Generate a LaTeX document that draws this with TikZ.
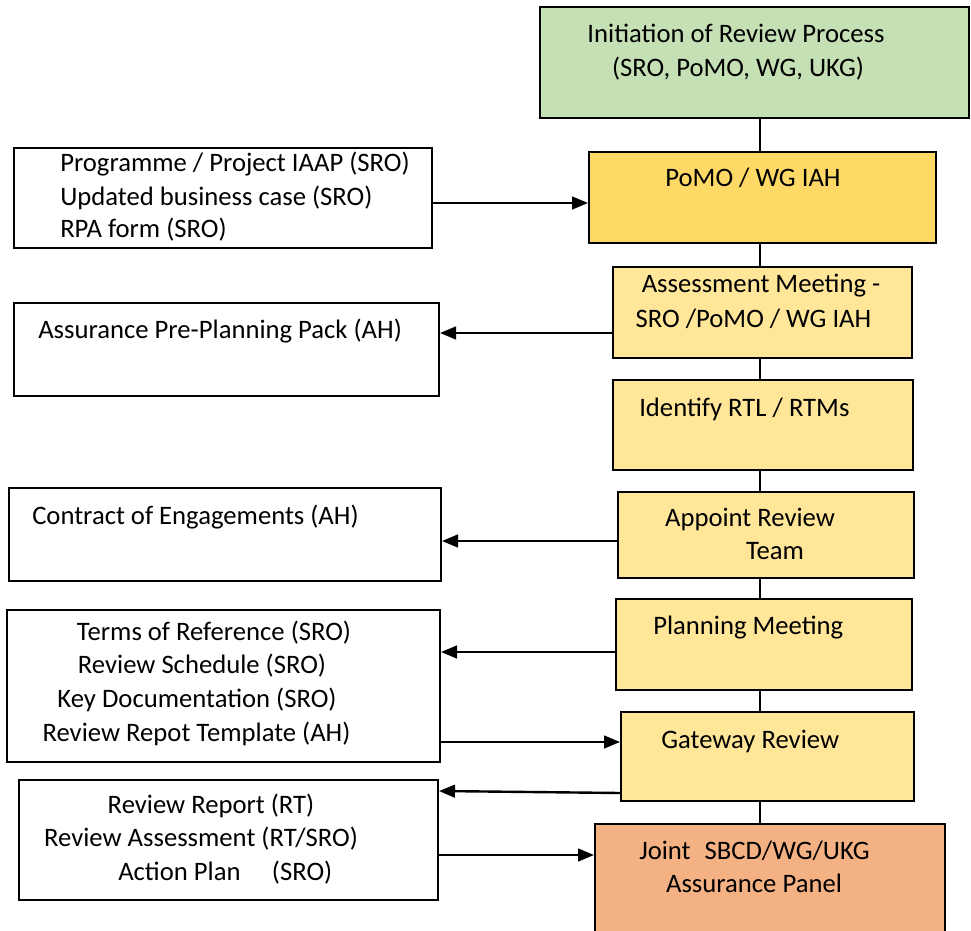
\documentclass[tikz,border=0pt]{standalone}
\usepackage{fontspec}
\setmainfont{Carlito}
\usetikzlibrary{fit,arrows.meta}
\definecolor{cgreen}{HTML}{C5E0B4}
\definecolor{cgold}{HTML}{FFD966}
\definecolor{cyel}{HTML}{FFE699}
\definecolor{corange}{HTML}{F4B183}
\tikzset{
  box/.style={draw=black, line width=1.5pt, inner sep=0pt},
  tx/.style={inner sep=0pt, text height=0.65em, text depth=0pt, yshift=-3pt, font=\fontsize{20pt}{25.5pt}\selectfont},
  arr/.style={line width=1.8pt, -{Triangle[length=12pt,width=9.5pt]}},
  link/.style={line width=0.8pt}
}
\begin{document}
\begin{tikzpicture}[x=0.75pt,y=-0.75pt]
\useasboundingbox (0,0) rectangle (971,931);
% right column boxes
\node[box, fill=cgreen, fit={(540,7) (969,118)}] (init) {};
\node[box, fill=cgold, fit={(589,152) (936,243)}] (pomo) {};
\node[box, fill=cyel, fit={(613,267) (912,358)}] (assess) {};
\node[box, fill=cyel, fit={(613,380) (913,470)}] (ident) {};
\node[box, fill=cyel, fit={(618,492) (914,578)}] (appoint) {};
\node[box, fill=cyel, fit={(616,599) (912,690)}] (plan) {};
\node[box, fill=cyel, fit={(621,712) (914,801)}] (gate) {};
\node[box, fill=corange, fit={(595,824) (945,940)}] (joint) {};
% left column boxes
\node[box, fill=white, fit={(14,148) (432,248)}] (docs1) {};
\node[box, fill=white, fit={(14,303) (439,396)}] (docs2) {};
\node[box, fill=white, fit={(9,488) (441,581)}] (docs3) {};
\node[box, fill=white, fit={(7,610) (440,762)}] (docs4) {};
\node[box, fill=white, fit={(19,780) (438,900)}] (docs5) {};
% texts right
\node[tx] (t1a) at (736,34) {Initiation of Review Process};
\node[tx] (t1b) at (738,68) {(SRO, PoMO, WG, UKG)};
\node[tx] (t2) at (753,178) {PoMO / WG IAH};
\node[tx] (t3a) at (761,284) {Assessment Meeting -};
\node[tx] (t3b) at (753.5,319) {SRO /PoMO / WG IAH};
\node[tx, anchor=west] (t4) at (639,408) {Identify RTL / RTMs};
\node[tx] (t5a) at (750,518) {Appoint Review};
\node[tx] (t5b) at (775,551) {Team};
\node[tx, anchor=west] (t6) at (653,626) {Planning Meeting};
\node[tx, anchor=west] (t7) at (661,740) {Gateway Review};
\node[tx, anchor=west] (t8a) at (639,851) {Joint\hspace{6pt} SBCD/WG/UKG};
\node[tx] (t8b) at (754,884) {Assurance Panel};
% texts left
\node[tx, anchor=west] (l1a) at (60,163) {Programme / Project IAAP (SRO)};
\node[tx, anchor=west] (l1b) at (60,197) {Updated business case (SRO)};
\node[tx, anchor=west] (l1c) at (60,229) {RPA form (SRO)};
\node[tx, anchor=west] (l2) at (38,330) {Assurance Pre-Planning Pack (AH)};
\node[tx, anchor=west] (l3) at (32,516) {Contract of Engagements (AH)};
\node[tx] (l4a) at (214,632) {Terms of Reference (SRO)};
\node[tx] (l4b) at (202,665) {Review Schedule (SRO)};
\node[tx] (l4c) at (197,699) {Key Documentation (SRO)};
\node[tx] (l4d) at (196.5,733) {Review Repot Template (AH)};
\node[tx] (l5a) at (211,805) {Review Report (RT)};
\node[tx] (l5b) at (201,838) {Review Assessment (RT/SRO)};
\node[tx, anchor=west] (l5c) at (118,872) {Action Plan\hspace{19pt} (SRO)};
% vertical links
\draw[link] (init.south -| 760,0) -- (pomo.north -| 760,0);
\draw[link] (pomo.south -| 760,0) -- (assess.north -| 760,0);
\draw[link] (assess.south -| 760,0) -- (ident.north -| 760,0);
\draw[link] (ident.south -| 760,0) -- (appoint.north -| 760,0);
\draw[link] (appoint.south -| 760,0) -- (plan.north -| 760,0);
\draw[link] (plan.south -| 760,0) -- (gate.north -| 760,0);
\draw[link] (gate.south -| 760,0) -- (joint.north -| 760,0);
% horizontal arrows
\draw[arr] (docs1.east |- 0,203) -- (pomo.west |- 0,203);
\draw[arr] (assess.west |- 0,333) -- (docs2.east |- 0,333);
\draw[arr] (appoint.west |- 0,541) -- (docs3.east |- 0,541);
\draw[arr] (plan.west |- 0,652) -- (docs4.east |- 0,652);
\draw[arr] (docs4.east |- 0,742) -- (gate.west |- 0,742);
\draw[arr] (gate.west |- 0,793) -- (docs5.east |- 0,791);
\draw[arr] (docs5.east |- 0,855) -- (joint.west |- 0,855);
\end{tikzpicture}
\end{document}
